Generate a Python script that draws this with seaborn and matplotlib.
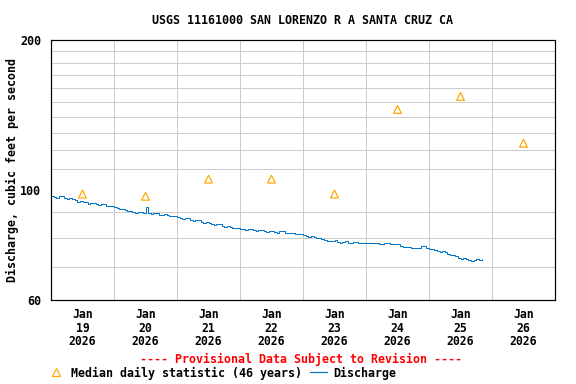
import matplotlib
matplotlib.use("Agg")
import matplotlib.pyplot as plt
import matplotlib.ticker as mticker
from matplotlib.lines import Line2D
import seaborn as sns
import pandas as pd

# ---------------- data ----------------
title = "USGS 11161000 SAN LORENZO R A SANTA CRUZ CA"
ylabel = "Discharge, cubic feet per second"

median_days = ["2026-01-19 12:00", "2026-01-20 12:00", "2026-01-21 12:00", "2026-01-22 12:00",
               "2026-01-23 12:00", "2026-01-24 12:00", "2026-01-25 12:00", "2026-01-26 12:00"]
median_values = [98, 97, 105, 105, 98, 145, 154, 124]

# discharge, hourly from 2026-01-19 00:00
discharge_start = "2026-01-19 00:00"
discharge_values = [
    97.1, 96.7, 96.4, 97.0, 96.9, 96.2, 95.8, 96.3, 95.9, 95.2, 94.6, 95.0,
    94.5, 94.3, 93.7, 94.1, 93.9, 93.4, 93.2, 93.6, 93.4, 92.9, 92.6, 92.9,   # Jan 19
    92.4, 91.8, 91.3, 91.5, 91.2, 90.6, 90.4, 90.0, 89.9, 90.3, 90.2, 89.8,
    92.3, 89.6, 89.2, 89.7, 89.6, 89.0, 88.8, 89.2, 89.1, 88.6, 88.4, 88.6,   # Jan 20
    88.2, 87.9, 87.5, 87.8, 87.6, 87.0, 86.7, 87.1, 86.8, 86.3, 85.9, 86.2,
    85.9, 85.4, 85.1, 85.4, 85.2, 84.7, 84.3, 84.6, 84.3, 83.9, 83.6, 83.8,   # Jan 21
    83.4, 83.2, 83.1, 83.4, 83.2, 82.8, 82.7, 83.1, 83.0, 82.5, 82.3, 82.6,
    82.5, 82.1, 82.0, 82.4, 82.4, 81.9, 81.7, 82.0, 81.9, 81.5, 81.3, 81.4,   # Jan 22
    81.2, 80.8, 80.5, 80.7, 80.5, 80.0, 79.8, 79.6, 79.4, 79.0, 78.7, 79.0,
    79.1, 78.6, 78.3, 78.6, 78.7, 78.3, 78.2, 78.5, 78.6, 78.1, 78.0, 78.3,   # Jan 23
    78.3, 78.1, 78.0, 78.2, 78.3, 77.8, 77.6, 78.0, 78.2, 77.8, 77.6, 77.9,
    77.6, 77.0, 76.6, 76.8, 76.6, 76.3, 76.2, 76.4, 76.5, 77.1, 77.0, 76.4,   # Jan 24
    75.9, 76.1, 75.8, 75.4, 75.1, 75.2, 74.8, 74.2, 73.8, 73.9, 73.4, 73.0,
    72.7, 73.0, 72.6, 72.1, 72.0, 72.3, 72.4, 72.1, 72.6,                     # Jan 25
]

median_label = "Median daily statistic (46 years)"
discharge_label = "Discharge"
provisional = "---- Provisional Data Subject to Revision ----"

x_tick_labels = ["Jan\n19\n2026", "Jan\n20\n2026", "Jan\n21\n2026", "Jan\n22\n2026",
                 "Jan\n23\n2026", "Jan\n24\n2026", "Jan\n25\n2026", "Jan\n26\n2026"]
y_major = [60, 100, 200]
y_grid = [60, 70, 80, 90, 100, 110, 120, 130, 140, 150, 160, 170, 180, 190, 200]

# ---------------- frames ----------------
df_q = pd.DataFrame({
    "time": pd.date_range(discharge_start, periods=len(discharge_values), freq="1h"),
    "q": discharge_values,
})
df_m = pd.DataFrame({"time": pd.to_datetime(median_days), "q": median_values})

# ---------------- style ----------------
sns.set_theme(style="white")
FONT = ["DejaVu Sans Mono"]
FS = 11.6
plt.rcParams["font.family"] = FONT
plt.rcParams["font.weight"] = "bold"
plt.rcParams["text.color"] = "black"
plt.rcParams["axes.labelcolor"] = "black"
plt.rcParams["xtick.color"] = "black"
plt.rcParams["ytick.color"] = "black"

fig = plt.figure(figsize=(8, 384 / 72), dpi=72)
ax = fig.add_axes([51 / 576, 84 / 384, 504 / 576, 260 / 384])

line_color = "#0077CC"
tri_color = "#FFA500"

sns.lineplot(data=df_q, x="time", y="q", ax=ax, color=line_color, linewidth=1.0,
             drawstyle="steps-post", legend=False)
sns.scatterplot(data=df_m, x="time", y="q", ax=ax, marker="^", s=60,
                facecolor="none", edgecolor=tri_color, linewidth=1.2, legend=False, zorder=5)

ax.set_yscale("log")
ax.set_ylim(60, 200)
ax.set_xlim(pd.Timestamp("2026-01-19 00:00"), pd.Timestamp("2026-01-27 00:00"))

ax.yaxis.set_major_locator(mticker.FixedLocator(y_major))
ax.yaxis.set_major_formatter(mticker.FixedFormatter([str(v) for v in y_major]))
ax.yaxis.set_minor_locator(mticker.FixedLocator(y_grid))
ax.yaxis.set_minor_formatter(mticker.NullFormatter())

grid_days = pd.date_range("2026-01-19", "2026-01-27", freq="D")
ax.set_xticks(grid_days, minor=True)
ax.set_xticks(pd.to_datetime(median_days))
ax.set_xticklabels(x_tick_labels, fontsize=11.5, fontweight="bold", linespacing=1.06,
                   color="black")

ax.grid(False)
ax.grid(True, which="minor", axis="both", color="#cccccc", linewidth=1.0)
ax.tick_params(axis="both", which="both", length=0)
ax.tick_params(axis="x", pad=8)
ax.tick_params(axis="y", pad=10, labelsize=FS)
for lab in ax.get_yticklabels():
    lab.set_fontweight("bold")
    lab.set_color("black")

for s in ax.spines.values():
    s.set_color("black")
    s.set_linewidth(1.2)

ax.set_xlabel("")
ax.set_ylabel(ylabel, fontsize=FS, fontweight="bold", color="black")
ax.yaxis.set_label_coords(-0.064, 0.5)

fig.text(302 / 576, 1 - 20 / 384, title, ha="center", va="center", fontsize=FS,
         fontweight="bold", family=FONT, color="black")
fig.text(301.5 / 576, 1 - 359 / 384, provisional, ha="center", va="center", fontsize=FS,
         color="red", fontweight="bold", family=FONT)

handles = [
    Line2D([], [], marker="^", linestyle="none", markerfacecolor="none",
           markeredgecolor=tri_color, markersize=8, markeredgewidth=1.2),
    Line2D([], [], color=line_color, linewidth=1.2),
]
leg = fig.legend(handles, [median_label, discharge_label], loc="center left",
                 bbox_to_anchor=(48 / 576, 1 - 373 / 384), ncol=2, frameon=False,
                 prop={"family": FONT, "size": FS, "weight": "bold"},
                 handlelength=1.45, handletextpad=0.5, columnspacing=0.75, borderaxespad=0,
                 borderpad=0)
for t in leg.get_texts():
    t.set_color("black")

fig.savefig("out.png", dpi=72)
